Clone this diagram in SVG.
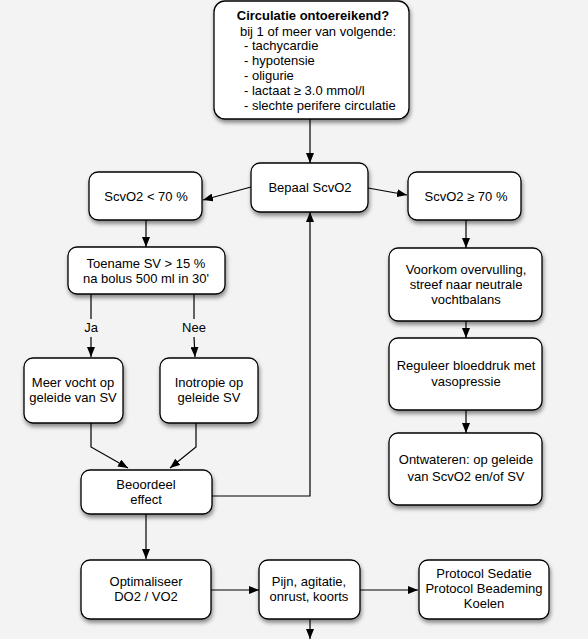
<svg xmlns="http://www.w3.org/2000/svg" width="588" height="639" viewBox="0 0 588 639">
<defs>
<filter id="sh" x="-20%" y="-20%" width="140%" height="150%">
<feDropShadow dx="1" dy="3" stdDeviation="2" flood-color="#000" flood-opacity="0.45"/>
</filter>
<marker id="ah" markerWidth="10" markerHeight="8" refX="10" refY="4" orient="auto" markerUnits="userSpaceOnUse">
<path d="M0,0 L10,4 L0,8 Z" fill="#000"/>
</marker>
<style>
.box{fill:#fff;stroke:#000;stroke-width:1.3;filter:url(#sh)}
text{font-family:"Liberation Sans",Arial,sans-serif;font-size:13px;fill:#000}
.c{text-anchor:middle}
.b{font-weight:bold}
.ln{fill:none;stroke:#000;stroke-width:1.2}
.arr{marker-end:url(#ah)}
</style>
</defs>
<rect width="588" height="639" fill="#f3f3f3"/>
<g id="connectors">
<line class="ln arr" x1="310" y1="119" x2="310" y2="163"/>
<line class="ln arr" x1="251" y1="187" x2="203" y2="200"/>
<line class="ln arr" x1="368" y1="188" x2="407" y2="195"/>
<line class="ln arr" x1="146" y1="220" x2="146" y2="247"/>
<line class="ln arr" x1="466" y1="220" x2="466" y2="248"/>
<line class="ln arr" x1="466" y1="321" x2="466" y2="338"/>
<line class="ln arr" x1="466" y1="410" x2="466" y2="433"/>
<path class="ln" d="M91,294 V319"/>
<line class="ln arr" x1="91" y1="337" x2="91" y2="357"/>
<path class="ln" d="M194,294 V319"/>
<line class="ln arr" x1="194" y1="337" x2="195" y2="357"/>
<text class="c" x="91" y="332">Ja</text>
<text class="c" x="194" y="332">Nee</text>
<polyline class="ln arr" points="91,423 91,447 128,468"/>
<polyline class="ln arr" points="196,423 196,447 170,468"/>
<polyline class="ln arr" points="212,496 310,496 310,212"/>
<line class="ln arr" x1="146" y1="514" x2="146" y2="559"/>
<line class="ln arr" x1="211" y1="590" x2="259" y2="590"/>
<line class="ln arr" x1="360" y1="590" x2="418" y2="590"/>
<line class="ln arr" x1="310" y1="619" x2="310" y2="639"/>
</g>
<g id="n-circulatie">
<rect class="box" x="214" y="1" width="195" height="118" rx="11"/>
<text class="c b" x="313" y="20">Circulatie ontoereikend?</text>
<text x="240" y="36">bij 1 of meer van volgende:</text>
<text x="244" y="50">- tachycardie</text>
<text x="244" y="65">- hypotensie</text>
<text x="244" y="80">- oligurie</text>
<text x="244" y="95">- lactaat ≥ 3.0 mmol/l</text>
<text x="244" y="110">- slechte perifere circulatie</text>
</g>
<g id="n-bepaal">
<rect class="box" x="251" y="163" width="117" height="49" rx="9"/>
<text class="c" x="310" y="192">Bepaal ScvO2</text>
</g>
<g id="n-low">
<rect class="box" x="89" y="172" width="113" height="48" rx="9"/>
<text class="c" x="146" y="201">ScvO2 &lt; 70 %</text>
</g>
<g id="n-high">
<rect class="box" x="408" y="172" width="113" height="48" rx="9"/>
<text class="c" x="466" y="201">ScvO2 ≥ 70 %</text>
</g>
<g id="n-toename">
<rect class="box" x="68" y="247" width="157" height="47" rx="9"/>
<text class="c" x="146" y="268">Toename SV &gt; 15 %</text>
<text class="c" x="146" y="283">na bolus 500 ml in 30'</text>
</g>
<g id="n-vocht">
<rect class="box" x="24" y="358" width="99" height="65" rx="9"/>
<text class="c" x="73" y="387">Meer vocht op</text>
<text class="c" x="73" y="402">geleide van SV</text>
</g>
<g id="n-inotropie">
<rect class="box" x="160" y="358" width="98" height="65" rx="9"/>
<text class="c" x="209" y="387">Inotropie op</text>
<text class="c" x="209" y="402">geleide SV</text>
</g>
<g id="n-beoordeel">
<rect class="box" x="81" y="470" width="131" height="44" rx="9"/>
<text class="c" x="146" y="489">Beoordeel</text>
<text class="c" x="146" y="504">effect</text>
</g>
<g id="n-optimaliseer">
<rect class="box" x="81" y="560" width="130" height="59" rx="9"/>
<text class="c" x="146" y="586">Optimaliseer</text>
<text class="c" x="146" y="601">DO2 / VO2</text>
</g>
<g id="n-pijn">
<rect class="box" x="259" y="560" width="101" height="59" rx="9"/>
<text class="c" x="309" y="586">Pijn, agitatie,</text>
<text class="c" x="309" y="601">onrust, koorts</text>
</g>
<g id="n-protocol">
<rect class="box" x="419" y="560" width="130" height="59" rx="9"/>
<text class="c" x="484" y="578">Protocol Sedatie</text>
<text class="c" x="484" y="593">Protocol Beademing</text>
<text class="c" x="484" y="608">Koelen</text>
</g>
<g id="n-voorkom">
<rect class="box" x="389" y="248" width="153" height="73" rx="9"/>
<text class="c" x="466" y="274">Voorkom overvulling,</text>
<text class="c" x="466" y="289">streef naar neutrale</text>
<text class="c" x="466" y="304">vochtbalans</text>
</g>
<g id="n-reguleer">
<rect class="box" x="389" y="338" width="153" height="72" rx="9"/>
<text class="c" x="466" y="370">Reguleer bloeddruk met</text>
<text class="c" x="466" y="386">vasopressie</text>
</g>
<g id="n-ontwateren">
<rect class="box" x="389" y="433" width="153" height="72" rx="9"/>
<text class="c" x="466" y="464">Ontwateren: op geleide</text>
<text class="c" x="466" y="481">van ScvO2 en/of SV</text>
</g>
</svg>
